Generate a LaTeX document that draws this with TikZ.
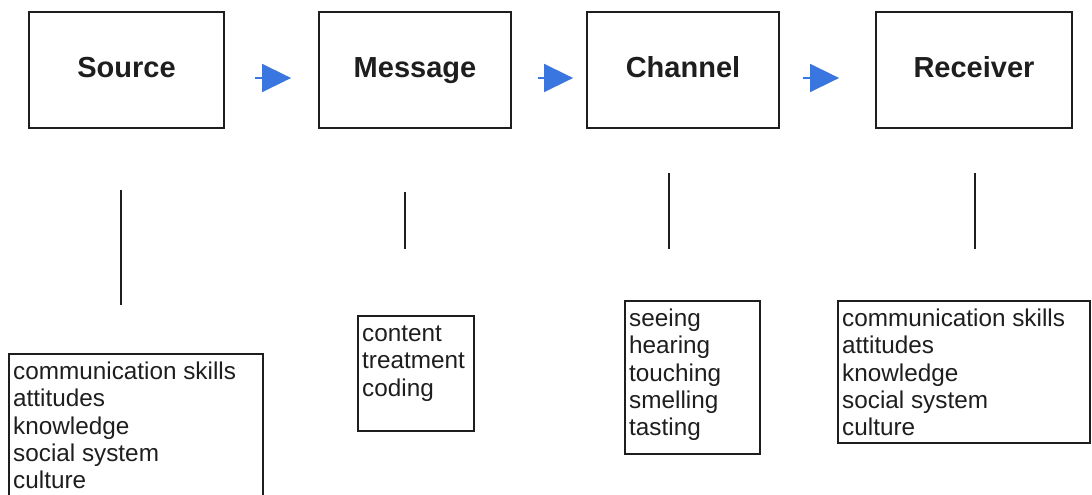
\documentclass[tikz,border=0pt]{standalone}
\usepackage{fontspec}
\setmainfont{Liberation Sans}
\usetikzlibrary{arrows.meta}
\definecolor{flowblue}{RGB}{58,118,224}
\definecolor{ink}{RGB}{30,30,30}
\tikzset{
  x=1pt, y=-1pt,
  titlebox/.style={draw=ink, line width=1.8pt, rectangle, minimum height=116pt,
    inner sep=0pt, text height=21pt, text depth=6pt,
    font=\bfseries\fontsize{29}{34}\selectfont, text=ink},
  listbox/.style={draw=ink, line width=1.6pt, rectangle, anchor=north west, inner sep=0pt},
  listtext/.style={anchor=north west, inner sep=0pt, align=left, text=ink,
    font=\fontsize{24.3}{27.4}\selectfont},
  flow/.style={draw=flowblue, line width=1.6pt, -{Triangle[length=29pt,width=28pt]}},
  stem/.style={draw=ink, line width=1.8pt},
}
\begin{document}
\begin{tikzpicture}
\useasboundingbox (0,0) rectangle (1092,495);
% title boxes
\node[titlebox, minimum width=195pt] (src) at (126.5,70) {Source};
\node[titlebox, minimum width=192pt] (msg) at (415,70) {Message};
\node[titlebox, minimum width=192pt] (chn) at (683,70) {Channel};
\node[titlebox, minimum width=196pt] (rcv) at (974,70) {Receiver};
% arrows
\draw[flow, shorten <=30pt, shorten >=27pt] ([yshift=-8pt]src.east) -- ([yshift=-8pt]msg.west);
\draw[flow, shorten <=26pt, shorten >=13pt] ([yshift=-8pt]msg.east) -- ([yshift=-8pt]chn.west);
\draw[flow, shorten <=23pt, shorten >=36pt] ([yshift=-8pt]chn.east) -- ([yshift=-8pt]rcv.west);
% vertical lines
\coordinate (s1) at (121,190); \coordinate (s2) at (121,305);
\coordinate (m1) at (405,192); \coordinate (m2) at (405,249);
\coordinate (c1) at (669,173); \coordinate (c2) at (669,249);
\coordinate (r1) at (975,173); \coordinate (r2) at (975,249);
\draw[stem] (s1) -- (s2);
\draw[stem] (m1) -- (m2);
\draw[stem] (c1) -- (c2);
\draw[stem] (r1) -- (r2);
% list boxes
\node[listbox, minimum width=254pt, minimum height=150pt] (srcl) at (8,353) {};
\node[listbox, minimum width=116pt, minimum height=115pt] (msgl) at (357,315) {};
\node[listbox, minimum width=135pt, minimum height=153pt] (chnl) at (624,300) {};
\node[listbox, minimum width=252pt, minimum height=142pt] (rcvl) at (837,300) {};
% list texts
\node[listtext] (srct) at ([shift={(5pt,-7pt)}]srcl.north west)
  {\strut communication skills\\attitudes\\knowledge\\social system\\culture};
\node[listtext] (msgt) at ([shift={(5pt,-7pt)}]msgl.north west)
  {\strut content\\treatment\\coding};
\node[listtext] (chnt) at ([shift={(5pt,-7pt)}]chnl.north west)
  {\strut seeing\\hearing\\touching\\smelling\\tasting};
\node[listtext] (rcvt) at ([shift={(5pt,-7pt)}]rcvl.north west)
  {\strut communication skills\\attitudes\\knowledge\\social system\\culture};
\end{tikzpicture}
\end{document}
